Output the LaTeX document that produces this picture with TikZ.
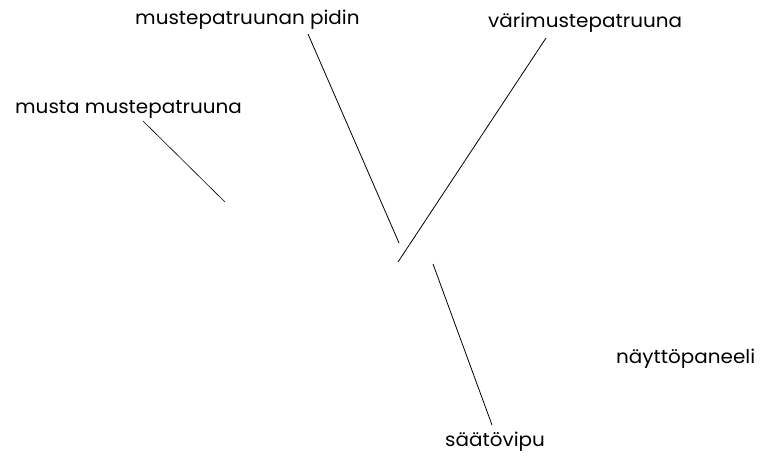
\documentclass[tikz,border=0pt]{standalone}
\usepackage{fontspec}
\setmainfont[FakeStretch=1.05]{Poppins}
\begin{document}
\begin{tikzpicture}[x=1pt,y=1pt,
  lbl/.style={inner sep=0pt,anchor=base west,font=\fontsize{19}{21}\selectfont},
  leader/.style={line width=0.8pt}]
\useasboundingbox (0,0) rectangle (768,459);
\node[lbl] (pidin) at (135,434) {mustepatruunan pidin};
\node[lbl] (vari) at (488,431) {värimustepatruuna};
\node[lbl] (musta) at (15,346) {musta mustepatruuna};
\node[lbl] (saato) at (445,13) {säätövipu};
\node[lbl] (naytto) at (616,96) {näyttöpaneeli};
\coordinate (p1) at (308,425);
\coordinate (p2) at (399,216);
\coordinate (v1) at (546,421);
\coordinate (v2) at (398,197);
\coordinate (m1) at (143,338);
\coordinate (m2) at (225,257);
\coordinate (s1) at (433,195);
\coordinate (s2) at (492,34);
\draw[leader] (p1) -- (p2);
\draw[leader] (v1) -- (v2);
\draw[leader,line width=0.6pt] (m1) -- (m2);
\draw[leader] (s1) -- (s2);
\end{tikzpicture}
\end{document}
